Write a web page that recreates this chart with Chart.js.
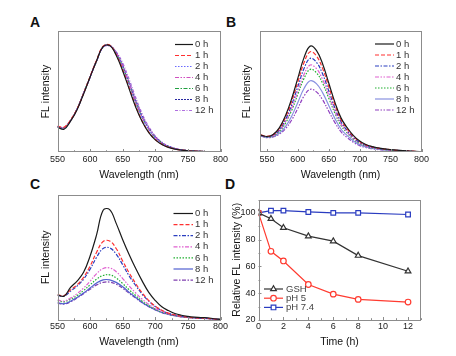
<!DOCTYPE html>
<html><head><meta charset="utf-8">
<script src="https://cdn.jsdelivr.net/npm/chart.js@4.4.1/dist/chart.umd.min.js"></script>
<style>
html,body{margin:0;padding:0;background:#fff;width:456px;height:356px;overflow:hidden}
canvas{position:absolute;left:0;top:0}
.lbl{position:absolute;font:bold 14px "Liberation Sans",Arial,sans-serif;line-height:14px;color:#111}
</style></head><body>
<div class="lbl" style="left:30px;top:15px">A</div>
<div class="lbl" style="left:226px;top:15px">B</div>
<div class="lbl" style="left:30px;top:177px">C</div>
<div class="lbl" style="left:225px;top:177px">D</div>
<canvas id="cA" width="456" height="356"></canvas>
<canvas id="cB" width="456" height="356"></canvas>
<canvas id="cC" width="456" height="356"></canvas>
<canvas id="cD" width="456" height="356"></canvas>
<script>
// ---------- DATA ----------
const seriesLabels = ['0 h','1 h','2 h','4 h','6 h','8 h','12 h'];

const wlA = [550,560,570,580,590,600,610,620,630,640,650,660,670,680,690,700,710,720,730,740,750,760,770,780,790,800];
const A_0h  = [20.5,18.8,25.5,35,48,62,75.5,87,88,80,67,52,37,25,16,10,6.2,3.8,2.4,1.5,1,0.7,0.5,0.3,0.2,0.1];
const A_1h  = [21.5,20.5,26.5,35.5,48.5,62.5,76,87.5,88.5,80.5,68,53,38,25.5,16.5,10.3,6.5,4,2.5,1.6,1,0.7,0.5,0.3,0.2,0.1];
const A_2h  = [21,20,26,35.5,48.5,62,75.5,87,88,81.5,70,55.5,40.5,28,18.5,11.5,7.2,4.4,2.7,1.7,1.1,0.7,0.5,0.3,0.2,0.1];
const A_4h  = [21,20,26,35.5,48.5,62,75.5,87,88,82,71,57,42,29,19.5,12.2,7.5,4.6,2.8,1.8,1.1,0.7,0.5,0.3,0.2,0.1];
const A_6h  = [21,20,26,35.5,48.5,62,75.5,87,88,81.5,70.5,56.5,41.5,28.5,19,12,7.4,4.5,2.8,1.7,1.1,0.7,0.5,0.3,0.2,0.1];
const A_8h  = [21,20,26,35.5,48.5,62,75.5,87,88,82,71.5,57.5,42.5,29.5,19.8,12.5,7.7,4.7,2.9,1.8,1.1,0.7,0.5,0.3,0.2,0.1];
const A_12h = [21,20,26,35.5,48.5,62,75,86.5,87.5,83,73.5,60,45,31.5,21,13.3,8.2,5,3,1.9,1.2,0.8,0.5,0.3,0.2,0.1];

const wlB = [540,550,560,570,580,590,600,610,620,630,640,650,660,670,680,690,700,710,720,730,740,750,760,770,780,790,800];
const B_0h  = [14,12.8,14.5,20,30,44,61,78,87.5,84,73,57,41,28,20,13.5,9,6.2,4.5,3.4,2.6,2,1.5,1.1,0.8,0.5,0.3];
const B_1h  = [14.2,13,14.3,19.2,28.6,41.8,57.8,73.9,82.9,79.5,69.1,54,38.8,26.5,18.9,12.8,8.5,5.9,4.3,3.2,2.5,1.9,1.4,1,0.8,0.5,0.3];
const B_2h  = [13.8,12.5,13.8,18.2,26.8,39,54,69,77.4,74.3,64.6,50.4,36.3,24.8,17.7,11.9,8,5.5,4,3,2.3,1.8,1.3,1,0.7,0.4,0.3];
const B_4h  = [13.8,12.4,13.5,17.4,25,36.2,50.1,64.1,71.9,69,60,46.9,33.7,23,16.4,11.1,7.4,5.1,3.7,2.8,2.1,1.6,1.2,0.9,0.7,0.4,0.2];
const B_6h  = [13.6,12.2,13.2,16.8,23.8,34.3,47.6,60.8,68.3,65.5,56.9,44.5,32,21.8,15.6,10.5,7,4.8,3.5,2.7,2,1.6,1.2,0.9,0.6,0.4,0.2];
const B_8h  = [13.4,12,12.8,15.5,21,29.6,41,52.5,58.9,56.5,49.1,38.4,27.6,18.8,13.5,9.1,6.1,4.2,3,2.3,1.7,1.3,1,0.7,0.5,0.3,0.2];
const B_12h = [13.3,11.8,12.5,14.8,19.2,26.4,36.1,46.2,51.8,49.7,43.2,33.7,24.3,16.6,11.8,8,5.3,3.7,2.7,2,1.5,1.2,0.9,0.7,0.5,0.3,0.2];

const wlC = [550,560,570,580,590,600,610,620,630,640,650,660,670,680,690,700,710,720,730,740,750,760,770,780,790,800];
const C_0h  = [20,19,26,31,38,51,68,87.5,88,77,64,52,41,31,22,15.5,10.5,7.5,5.2,3.8,2.9,2.3,1.9,1.8,1,0.5];
const C_1h  = [20,19.5,24,28,34,43,54,62.5,63,57,47,37.5,29,21.5,15.5,11,7.8,5.5,4,3,2.3,1.8,1.5,1.3,0.8,0.4];
const C_2h  = [19.5,19,23,27,32.5,40.5,50,57,57.5,52.5,44,35,27.5,20.5,15,10.7,7.6,5.4,4,3,2.3,1.8,1.5,1.3,0.8,0.4];
const C_4h  = [16,15,17.5,21,25.5,31,37,41,41.5,38.5,33,27,21.5,16.5,12.5,9.2,6.7,4.9,3.7,2.8,2.2,1.8,1.5,1.3,0.8,0.4];
const C_6h  = [15.5,14.5,16.5,19.5,23.5,28,32.5,35.5,36,33.5,29,24,19.5,15,11.5,8.6,6.3,4.7,3.5,2.7,2.1,1.7,1.4,1.2,0.8,0.4];
const C_8h  = [13.8,13,15,18,21.5,25.5,29.5,32,32,30,26.5,22,18,14,10.8,8.2,6,4.5,3.4,2.6,2,1.7,1.4,1.2,0.8,0.4];
const C_12h = [13.5,12.7,14.5,17.5,21,24.5,28,30,30.2,28.5,25.3,21.2,17.4,13.7,10.6,8,5.9,4.4,3.3,2.5,2,1.6,1.3,1.1,0.7,0.4];

const timeH   = [0,1,2,4,6,8,12];
const gshVals = [100,95.6,88.9,82.6,78.9,68.1,56.4];
const ph5Vals = [100,71.3,64.1,46.5,39.3,35.4,33.4];
const ph74Vals= [100,101.7,101.7,100.7,100,100,98.8];
const dLabels = ['GSH','pH 5','pH 7.4'];

// ---------- STYLES ----------
const FONT = '"Liberation Sans", Arial, sans-serif';
const FRAME = '#8c8c8c';
const colA = ['#1a1a1a','#ff3030','#6a6aff','#d050c0','#20a040','#2828a0','#b070e0'];
const dashA = [[],[4,2],[1.5,1.5],[4,1.5,1.5,1.5,1.5,1.5],[4,1.5,1.5,1.5],[2,1],[3,1.5,1,1.5]];
const colB = ['#1a1a1a','#ff3030','#2a3ec0','#e060d0','#20b030','#8890e0','#9040c0'];
const dashB = [[],[4,2],[4,1.5,1.5,1.5],[4,1.5,1.5,1.5,1.5,1.5],[1.5,1.5],[],[4,1.5,1.5,1.5,1.5,1.5]];
const colC = ['#1a1a1a','#ff3030','#2a3ec0','#e060d0','#20b030','#5060d0','#8040b0'];
const dashC = [[],[4,2],[4,1.5,1.5,1.5],[4,1.5,1.5,1.5,1.5,1.5],[1.5,1.5],[],[4,1.5,1.5,1.5]];

Chart.defaults.font.family = FONT;

function pts(xs, ys){ return xs.map((x,i)=>({x:x, y:ys[i]})); }

// frame, inward ticks, custom legend
const decor = {
  id:'decor',
  afterDatasetsDraw(chart, args, o){
    const ctx = chart.ctx, ca = chart.chartArea;
    ctx.save();
    ctx.setLineDash([]);
    ctx.strokeStyle = FRAME; ctx.lineWidth = 1;
    ctx.strokeRect(Math.round(ca.left)+0.5, Math.round(ca.top)+0.5, Math.round(ca.right-ca.left)-1, Math.round(ca.bottom-ca.top)-1);
    const drawAxisTicks = (scale, horiz) => {
      const tv = scale.ticks.map(t=>t.value);
      const vals = [];
      tv.forEach(v=>vals.push([v,3]));
      for (let i=0;i<tv.length-1;i++) vals.push([(tv[i]+tv[i+1])/2,1.8]);
      if (tv.length>1){
        const st = tv[1]-tv[0];
        vals.push([tv[tv.length-1]+st/2,1.8]); vals.push([tv[0]-st/2,1.8]);
      }
      vals.forEach(([v,len])=>{
        if (v < scale.min || v > scale.max) return;
        const p = Math.round(scale.getPixelForValue(v))+0.5;
        ctx.beginPath();
        if (horiz){ ctx.moveTo(p, ca.bottom); ctx.lineTo(p, ca.bottom-len); }
        else { ctx.moveTo(ca.left, p); ctx.lineTo(ca.left+len, p); }
        ctx.stroke();
      });
    };
    drawAxisTicks(chart.scales.x, true);
    if (o.yTicks) drawAxisTicks(chart.scales.y, false);
    // legend
    const L = o.legend;
    ctx.font = L.size + 'px ' + FONT;
    ctx.textBaseline = 'middle'; ctx.textAlign = 'left';
    chart.data.datasets.forEach((ds,i)=>{
      const y = L.y0 + i*L.dy;
      ctx.strokeStyle = ds.borderColor; ctx.lineWidth = ds.borderWidth;
      ctx.setLineDash(ds.borderDash || []);
      ctx.beginPath(); ctx.moveTo(L.x0, y); ctx.lineTo(L.x1, y); ctx.stroke();
      ctx.setLineDash([]);
      if (L.marker){
        ctx.fillStyle = '#fff'; ctx.strokeStyle = ds.borderColor; ctx.lineWidth = ds.pointBorderWidth;
        Chart.helpers.drawPoint(ctx, {pointStyle: ds.pointStyle, radius: ds.pointRadius, borderWidth: ds.pointBorderWidth, rotation:0}, (L.x0+L.x1)/2, y);
      }
      ctx.fillStyle = L.color;
      ctx.fillText(ds.label, L.tx, y);
    });
    ctx.restore();
  }
};

function makeChart(id, p){
  const tsz = 10.5, half = tsz*1.2/2;
  const padLeft = p.yTitleX - half;
  const xH = p.xTitleY + half - p.area.b;
  const yW = p.area.l - padLeft;
  return new Chart(document.getElementById(id), {
    type:'line',
    data:{datasets:p.datasets},
    plugins:[decor],
    options:{
      responsive:false, animation:false, devicePixelRatio:1,
      layout:{padding:{left:padLeft, top:p.area.t, right:456-p.area.r, bottom:356-(p.xTitleY+half)}},
      plugins:{legend:{display:false}, tooltip:{enabled:false}, decor:{legend:p.legend, yTicks:p.yTicks}},
      scales:{
        x:{type:'linear', min:p.xMin, max:p.xMax,
           border:{display:false}, grid:{display:false, drawTicks:false, tickLength:0},
           ticks:{stepSize:p.xStep, includeBounds:false, autoSkip:false, maxRotation:0,
                  font:{size:9, family:FONT}, color:'#222', padding:p.tickY - 5.4 - p.area.b},
           title:{display:true, text:p.xTitle, font:{size:tsz, family:FONT}, color:'#111', padding:0},
           afterFit(s){ s.height = xH; }},
        y:{type:'linear', min:p.yMin, max:p.yMax,
           border:{display:false}, grid:{display:false, drawTicks:false, tickLength:0},
           ticks:{display:!!p.yTicks, stepSize:p.yStep, includeBounds:false,
                  font:{size:9, family:FONT}, color:'#222', padding:3},
           title:{display:true, text:p.yTitle, font:{size:tsz, family:FONT}, color:'#111', padding:0},
           afterFit(s){ s.width = yW; }}
      }
    }
  });
}

function specSets(wl, arrs, cols, dashes){
  return arrs.map((a,i)=>({label:seriesLabels[i], data:pts(wl,a), borderColor:cols[i], borderDash:dashes[i],
    borderWidth:1.2, pointRadius:0, tension:0.4, fill:false}));
}

makeChart('cA', {
  area:{l:57.5,t:31,r:220.5,b:152}, yTitleX:46, xTitleY:175, tickY:160,
  xMin:550, xMax:800, xStep:50, yMin:0, yMax:100,
  xTitle:'Wavelength (nm)', yTitle:'FL intensity',
  datasets:specSets(wlA,[A_0h,A_1h,A_2h,A_4h,A_6h,A_8h,A_12h],colA,dashA),
  legend:{x0:175,x1:193,tx:195,y0:44.5,dy:11,size:9.5,color:'#333'}
});
makeChart('cB', {
  area:{l:259.5,t:31,r:421.5,b:152}, yTitleX:247.5, xTitleY:175, tickY:160,
  xMin:538, xMax:800, xStep:50, yMin:0, yMax:100,
  xTitle:'Wavelength (nm)', yTitle:'FL intensity',
  datasets:specSets(wlB,[B_0h,B_1h,B_2h,B_4h,B_6h,B_8h,B_12h],colB,dashB),
  legend:{x0:375,x1:394,tx:396,y0:44,dy:11,size:9.5,color:'#333'}
});
makeChart('cC', {
  area:{l:57.5,t:194.5,r:220.5,b:320}, yTitleX:46, xTitleY:342.5, tickY:326.5,
  xMin:550, xMax:800, xStep:50, yMin:0, yMax:100,
  xTitle:'Wavelength (nm)', yTitle:'FL intensity',
  datasets:specSets(wlC,[C_0h,C_1h,C_2h,C_4h,C_6h,C_8h,C_12h],colC,dashC),
  legend:{x0:173.5,x1:193,tx:195,y0:213.5,dy:11.1,size:9.5,color:'#333'}
});
const dSets = [
  {label:dLabels[0], data:pts(timeH,gshVals), borderColor:'#333', pointStyle:'triangle'},
  {label:dLabels[1], data:pts(timeH,ph5Vals), borderColor:'#ff3b30', pointStyle:'circle'},
  {label:dLabels[2], data:pts(timeH,ph74Vals), borderColor:'#2a3cc0', pointStyle:'rect'}
].map(d=>Object.assign(d,{borderWidth:1.2, pointRadius:d.pointStyle==='circle'?2.8:3.3, pointBorderWidth:1.2,
  pointBackgroundColor:'#fff', pointBorderColor:d.borderColor, tension:0, fill:false}));
makeChart('cD', {
  area:{l:258.5,t:199.5,r:420.5,b:320}, yTitleX:237.5, xTitleY:342.5, tickY:326.5,
  xMin:0, xMax:13, xStep:2, yMin:20, yMax:110, yStep:20, yTicks:true,
  xTitle:'Time (h)', yTitle:'Relative FL intensity (%)',
  datasets:dSets,
  legend:{x0:264,x1:283,tx:286,y0:289,dy:9.2,size:9.5,color:'#444',marker:true}
});
</script>
</body></html>
